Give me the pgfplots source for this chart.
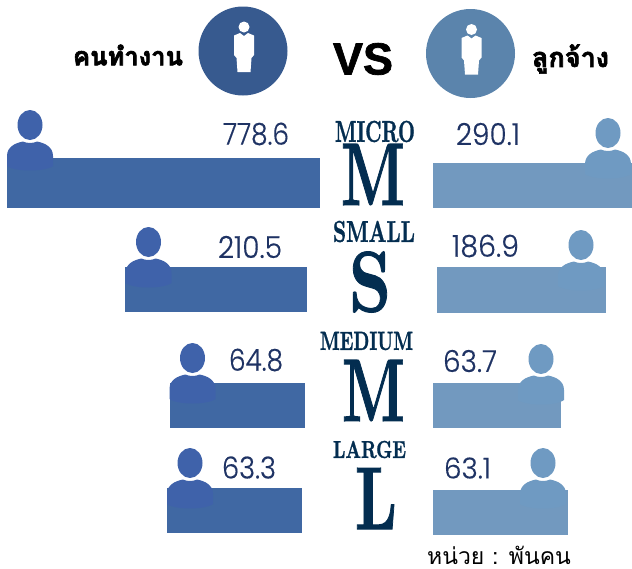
\documentclass[border=0pt]{standalone}
\usepackage{fontspec}
\usepackage{graphicx}
\usepackage{pgfplots}
\pgfplotsset{compat=1.18}
\newfontfamily\thaifont[Script=Thai]{Loma}
\newfontfamily\thaihead[Script=Thai,BoldFeatures={FakeBold=2.5}]{Loma}
\newfontfamily\numfont[FakeBold=0.4]{Poppins Light}
\newfontfamily\headfont[BoldFeatures={FakeBold=1.5}]{Liberation Sans}
\newfontfamily\sizefont[BoldFeatures={FakeBold=1.2}]{Latin Modern Roman}
\definecolor{barL}{RGB}{64,104,163}
\definecolor{barR}{RGB}{114,153,191}
\definecolor{manL}{RGB}{63,98,170}
\definecolor{manR}{RGB}{111,154,194}
\definecolor{circL}{RGB}{55,90,143}
\definecolor{circR}{RGB}{91,132,172}
\definecolor{numcol}{RGB}{31,51,100}
\definecolor{sizecol}{RGB}{3,45,80}

% bust icon, cx / top of head / colour
\newcommand{\person}[3]{%
  \begin{scope}[shift={(axis cs:#1,#2)},yscale=-1]
    \fill[#3] (0pt,15pt) ellipse [x radius=12.5pt,y radius=15pt];
    \fill[#3] (-23pt,46pt) .. controls (-23pt,37pt) and (-15pt,33pt) .. (-7pt,31.5pt)
      .. controls (-3pt,33.5pt) and (3pt,33.5pt) .. (7pt,31.5pt)
      .. controls (15pt,33pt) and (23pt,37pt) .. (23pt,46pt)
      -- (23pt,56pt) .. controls (15pt,62pt) and (-15pt,62pt) .. (-23pt,56pt) -- cycle;
  \end{scope}}
% white standing man in the header circles, cx / cy of circle / circle colour
\newcommand{\badge}[3]{%
  \begin{scope}[shift={(axis cs:#1,#2)},yscale=-1]
    \fill[#3] (0pt,0pt) circle [radius=44.5pt];
    \fill[white] (1pt,-24pt) circle [radius=5.5pt];
    \fill[white] (-9pt,-15.5pt) -- (-3pt,-18pt) -- (1pt,-15pt) -- (5pt,-18pt) -- (11pt,-15.5pt)
      -- (11pt,4pt) -- (8.5pt,7pt) -- (7.5pt,21pt) -- (-5.5pt,21pt) -- (-6.5pt,7pt) -- (-9pt,4pt) -- cycle;
  \end{scope}}
% size label stretched to a box, cx cy w h text
\newcommand{\size}[5]{\node[text=sizecol,inner sep=0pt] at (axis cs:#1,#2) {\resizebox{#3pt}{#4pt}{\sizefont\bfseries #5}};}
% value text stretched to a box, cx cy w h text
\newcommand{\num}[5]{\node[font=\numfont,text=numcol,inner sep=0pt] at (axis cs:#1,#2) {\resizebox{#3pt}{#4pt}{#5}};}

\begin{document}
\begin{tikzpicture}
\useasboundingbox (0pt,0pt) rectangle (632pt,568pt);
\begin{axis}[
  scale only axis,
  width=632pt, height=568pt,
  xmin=0, xmax=632, ymin=0, ymax=568,
  y dir=reverse,
  hide axis,
  clip=false,
]
% left bars
\addplot[fill=barL,draw=none] coordinates {(7,158)(320,158)(320,208)(7,208)} --cycle;
\addplot[fill=barL,draw=none] coordinates {(125,267)(307,267)(307,312)(125,312)} --cycle;
\addplot[fill=barL,draw=none] coordinates {(170,383)(305,383)(305,428)(170,428)} --cycle;
\addplot[fill=barL,draw=none] coordinates {(167,488)(302,488)(302,533)(167,533)} --cycle;
% right bars
\addplot[fill=barR,draw=none] coordinates {(433,163)(632,163)(632,208)(433,208)} --cycle;
\addplot[fill=barR,draw=none] coordinates {(437,267)(606,267)(606,313)(437,313)} --cycle;
\addplot[fill=barR,draw=none] coordinates {(433,383)(561,383)(561,428)(433,428)} --cycle;
\addplot[fill=barR,draw=none] coordinates {(433,490)(568,490)(568,535)(433,535)} --cycle;

\person{30}{110}{manL}
\person{148.5}{227}{manL}
\person{192.5}{343}{manL}
\person{190}{448}{manL}
\person{608}{118}{manR}
\person{581}{230}{manR}
\person{541}{344}{manR}
\person{543}{448}{manR}

\badge{243}{51}{circL}
\badge{470.5}{53.5}{circR}

\node[inner sep=0pt] at (axis cs:128,55) {\resizebox{110pt}{!}{\thaihead\bfseries\fontsize{27}{27}\selectfont คนทำงาน}};
\node[inner sep=0pt] at (axis cs:570.5,59) {\resizebox{77pt}{!}{\thaihead\bfseries\fontsize{27}{27}\selectfont ลูกจ้าง}};
\node[font=\headfont\bfseries\fontsize{45}{45}\selectfont,inner sep=0pt] at (axis cs:363,59) {VS};

\num{256}{134}{66}{22}{778.6}
\num{488}{134}{64}{22}{290.1}
\num{250}{247}{64}{22}{210.5}
\num{485.5}{246}{67}{22}{186.9}
\num{256}{360}{54}{22}{64.8}
\num{470}{361}{54}{22}{63.7}
\num{249}{467.5}{54}{22}{63.3}
\num{467.5}{468}{47}{21}{63.1}

\size{375}{131.5}{80}{21}{MICRO}
\size{373}{174.5}{64}{61}{M}
\size{374}{231.5}{82}{21}{SMALL}
\size{370}{282}{42}{60}{S}
\size{366.5}{341}{93}{18}{MEDIUM}
\size{373.5}{390.5}{63}{61}{M}
\size{369.5}{449.5}{73}{17}{LARGE}
\size{376}{498.5}{42}{61}{L}

\node[font=\thaifont\fontsize{23}{23}\selectfont,inner sep=0pt] at (axis cs:499,555) {หน่วย : พันคน};
\end{axis}
\end{tikzpicture}
\end{document}
